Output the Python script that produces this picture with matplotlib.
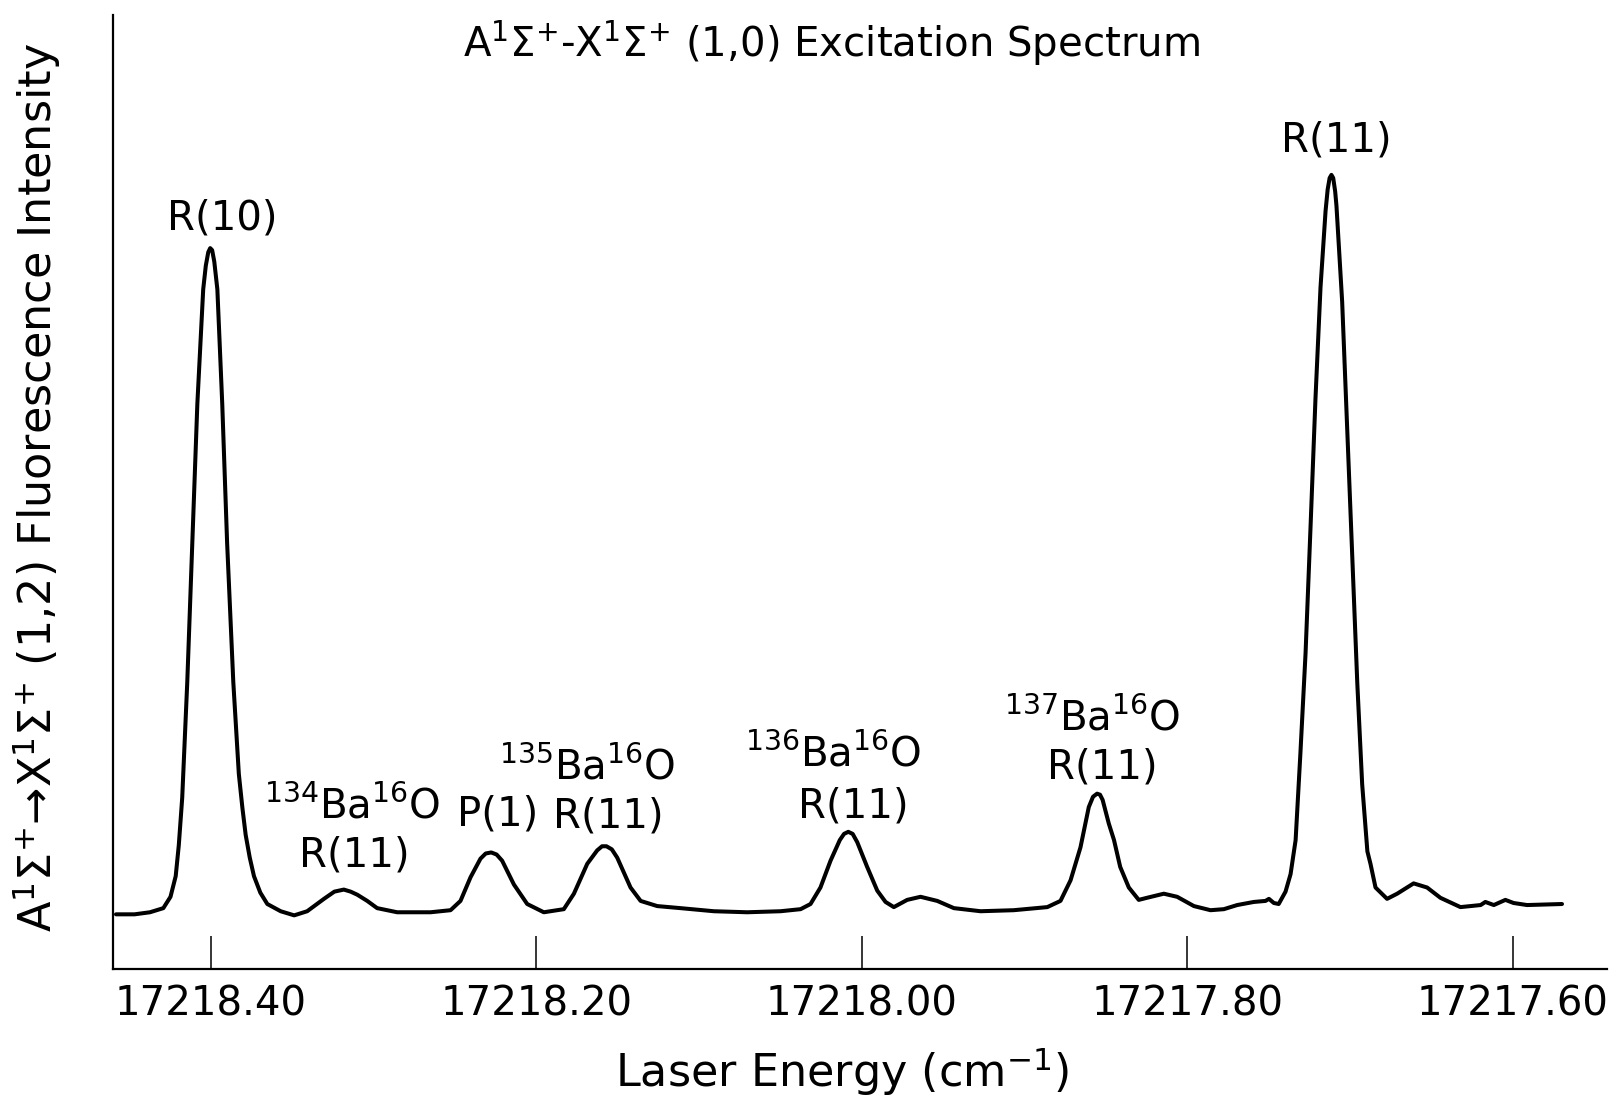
import matplotlib
matplotlib.use("Agg")
import matplotlib.pyplot as plt
from matplotlib import font_manager

# BaO A-X (1,0) excitation trace
energy = [
    17218.4582, 17218.4468, 17218.4373, 17218.4291, 17218.4247, 17218.4215,
    17218.4196, 17218.4175, 17218.4144, 17218.4113, 17218.4082, 17218.4046,
    17218.4030, 17218.4015, 17218.4003, 17218.3991, 17218.3978, 17218.3959,
    17218.3929, 17218.3899, 17218.3861, 17218.3827, 17218.3805, 17218.3785,
    17218.3760, 17218.3734, 17218.3695, 17218.3652, 17218.3570, 17218.3487,
    17218.3407, 17218.3304, 17218.3240, 17218.3182, 17218.3140, 17218.3099,
    17218.3038, 17218.2977, 17218.2854, 17218.2649, 17218.2526, 17218.2465,
    17218.2403, 17218.2342, 17218.2310, 17218.2276, 17218.2243, 17218.2209,
    17218.2137, 17218.2055, 17218.1953, 17218.1830, 17218.1768, 17218.1686,
    17218.1625, 17218.1595, 17218.1568, 17218.1535, 17218.1502, 17218.1420,
    17218.1358, 17218.1256, 17218.1113, 17218.0908, 17218.0703, 17218.0498,
    17218.0375, 17218.0314, 17218.0253, 17218.0191, 17218.0134, 17218.0108,
    17218.0082, 17218.0055, 17218.0027, 17217.9966, 17217.9904, 17217.9853,
    17217.9802, 17217.9720, 17217.9638, 17217.9535, 17217.9433, 17217.9269,
    17217.9065, 17217.8859, 17217.8778, 17217.8716, 17217.8655, 17217.8604,
    17217.8578, 17217.8553, 17217.8535, 17217.8519, 17217.8481, 17217.8449,
    17217.8411, 17217.8358, 17217.8297, 17217.8247, 17217.8143, 17217.8061,
    17217.7958, 17217.7856, 17217.7774, 17217.7692, 17217.7590, 17217.7518,
    17217.7497, 17217.7467, 17217.7437, 17217.7395, 17217.7364, 17217.7333,
    17217.7304, 17217.7272, 17217.7241, 17217.7211, 17217.7180, 17217.7149,
    17217.7136, 17217.7124, 17217.7113, 17217.7102, 17217.7090, 17217.7082,
    17217.7047, 17217.7016, 17217.6985, 17217.6954, 17217.6924, 17217.6892,
    17217.6873, 17217.6842, 17217.6771, 17217.6709, 17217.6608, 17217.6525,
    17217.6443, 17217.6320, 17217.6196, 17217.6167, 17217.6115, 17217.6044,
    17217.5994, 17217.5911, 17217.5696,
]
intensity = [
    5.3, 5.3, 5.5, 5.9, 7.0, 9.0,
    12.0, 16.6, 27.8, 41.3, 54.8, 65.9,
    68.2, 69.5, 69.9, 69.7, 68.6, 65.9,
    54.8, 41.3, 27.8, 18.9, 15.6, 13.0,
    10.8, 9.0, 7.4, 6.3, 5.6, 5.2,
    5.6, 6.8, 7.5, 7.7, 7.5, 7.2,
    6.6, 5.9, 5.5, 5.5, 5.7, 6.6,
    8.9, 10.7, 11.2, 11.3, 11.1, 10.5,
    8.2, 6.3, 5.5, 5.8, 7.3, 10.2,
    11.5, 11.9, 11.9, 11.6, 10.8, 7.9,
    6.6, 6.1, 5.9, 5.6, 5.5, 5.6,
    5.8, 6.3, 7.9, 10.5, 12.5, 13.1,
    13.3, 13.1, 12.3, 9.9, 7.6, 6.5,
    6.0, 6.7, 7.0, 6.6, 5.9, 5.6,
    5.7, 6.0, 6.6, 8.6, 11.8, 15.7,
    16.7, 17.0, 16.9, 16.4, 14.1, 12.5,
    9.9, 7.9, 6.7, 6.9, 7.3, 7.0,
    6.1, 5.7, 5.8, 6.2, 6.5, 6.6,
    6.8, 6.4, 6.3, 7.5, 9.2, 12.5,
    20.8, 30.6, 43.0, 55.3, 66.1, 73.5,
    75.6, 76.7, 77.0, 76.7, 75.4, 74.0,
    64.7, 52.4, 40.0, 27.7, 17.9, 11.4,
    10.2, 7.9, 6.8, 7.3, 8.3, 7.9,
    6.9, 6.0, 6.2, 6.5, 6.2, 6.7,
    6.4, 6.2, 6.3,
]

tick_values = [17218.40, 17218.20, 17218.00, 17217.80, 17217.60]
tick_labels = ["17218.40", "17218.20", "17218.00", "17217.80", "17217.60"]

# line assignments: (text, x, y)
line_labels = [
    ("R(10)", 17218.393, 72.8),
    ("R(11)", 17217.708, 80.3),
    ("$^{134}$Ba$^{16}$O", 17218.313, 15.7),
    ("R(11)", 17218.312, 11.0),
    ("P(1)", 17218.2234, 15.0),
    ("$^{135}$Ba$^{16}$O", 17218.1684, 19.5),
    ("R(11)", 17218.1557, 14.8),
    ("$^{136}$Ba$^{16}$O", 17218.0177, 20.8),
    ("R(11)", 17218.0051, 15.8),
    ("$^{137}$Ba$^{16}$O", 17217.8582, 24.2),
    ("R(11)", 17217.8519, 19.5),
]

names = {f.name for f in font_manager.fontManager.ttflist}
family = "Liberation Sans Narrow" if "Liberation Sans Narrow" in names else "DejaVu Sans"
plt.rcParams["font.family"] = [family, "DejaVu Sans"]
plt.rcParams["mathtext.fontset"] = "custom"
plt.rcParams["mathtext.rm"] = family
plt.rcParams["mathtext.it"] = family
plt.rcParams["mathtext.bf"] = family

fig = plt.figure(figsize=(16.15, 10.98), dpi=100)
ax = fig.add_axes([0.070, 0.1175, 0.925, 0.8688])

ax.plot(energy, intensity, color="black", lw=2.9,
        solid_joinstyle="round", solid_capstyle="round")

ax.set_xlim(17218.46, 17217.542)
ax.set_ylim(0, 92.5)

for side in ("top", "right"):
    ax.spines[side].set_visible(False)
for side in ("left", "bottom"):
    ax.spines[side].set_linewidth(1.6)

ax.set_xticks(tick_values)
ax.set_xticklabels(tick_labels)
ax.set_yticks([])
ax.tick_params(axis="x", direction="in", length=24, width=1.1, pad=11, labelsize=29)

for text, x, y in line_labels:
    ax.text(x, y, text, ha="center", va="center", fontsize=29)

ax.set_xlabel("Laser Energy (cm$^{-1}$)", fontsize=32)
ax.xaxis.label.set_va("center")
ax.xaxis.set_label_coords(0.488, -0.107)

ax.set_ylabel("A$^{1}$Σ$^{+}$→X$^{1}$Σ$^{+}$ (1,2) Fluorescence Intensity", fontsize=32)
ax.yaxis.label.set_va("center")
ax.yaxis.set_label_coords(-0.0515, 0.505)

fig.text(0.515, 0.961, "A$^{1}$Σ$^{+}$-X$^{1}$Σ$^{+}$ (1,0) Excitation Spectrum",
         ha="center", va="center", fontsize=29)

fig.savefig("out.png", dpi=100)
